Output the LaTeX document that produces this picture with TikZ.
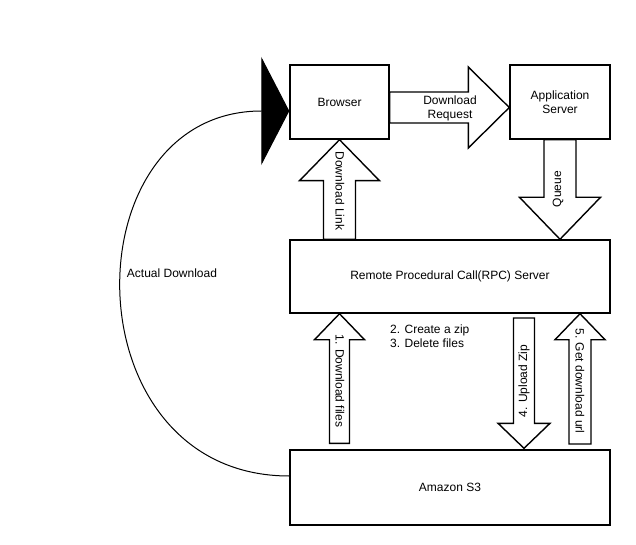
\documentclass[tikz,border=0pt]{standalone}
\usepackage{fontspec}
\setmainfont{Liberation Sans}
\usetikzlibrary{calc,arrows.meta}
\newcommand{\blockarr}[5]{%
  \draw[barrow] ($(#1)!#3!90:(#2)$) -- ($($(#2)!#5!(#1)$)!#3!-90:(#1)$)
    -- ($($(#2)!#5!(#1)$)!#4!-90:(#1)$) -- (#2)
    -- ($($(#2)!#5!(#1)$)!#4!90:(#1)$) -- ($($(#2)!#5!(#1)$)!#3!90:(#1)$)
    -- ($(#1)!#3!-90:(#2)$) -- cycle;}
\begin{document}
\begin{tikzpicture}[x=1pt,y=-1pt,
  box/.style={draw,line width=1.4pt,fill=white,inner sep=0pt,font=\fontsize{12}{14}\selectfont,align=center},
  barrow/.style={draw,line width=1.4pt,fill=white,line join=miter},
  lbl/.style={font=\fontsize{12}{14}\selectfont,inner sep=0pt,align=center},
  curvearrow/.style={line width=1pt,-{Triangle[length=28pt,width=108pt]}}]
\useasboundingbox (0,0) rectangle (636,545);
% boxes
\node[box,minimum width=99pt,minimum height=74pt] (browser) at (339.5,102) {Browser};
\node[box,minimum width=100pt,minimum height=74pt] (app) at (560,102) {Application\\Server};
\node[box,minimum width=320pt,minimum height=73pt] (rpc) at (450,276.5) {Remote Procedural Call(RPC) Server};
\node[box,minimum width=320pt,minimum height=75pt] (s3) at (450,487.5) {Amazon S3};
% coordinates for block arrows
\coordinate (drA) at ([yshift=-5.5pt]browser.east);
\coordinate (drB) at (drA -| app.west);
\coordinate (dlA) at (browser.south |- rpc.north);
\coordinate (dlB) at (browser.south);
\coordinate (qA) at (app.south);
\coordinate (qB) at (app.south |- rpc.north);
\coordinate (f1A) at ([yshift=6pt]dlA |- s3.north);
\coordinate (f1B) at (dlA |- rpc.south);
\coordinate (u4A) at ([yshift=-5pt]524,313);
\coordinate (u4B) at ([yshift=1pt]u4A |- s3.north);
\coordinate (g5A) at ([yshift=6pt]580,450);
\coordinate (g5B) at (g5A |- rpc.south);
% block arrows
\blockarr{drA}{drB}{15.5pt}{40.5pt}{41pt}
\blockarr{dlA}{dlB}{16pt}{40pt}{41pt}
\blockarr{qA}{qB}{16pt}{40.5pt}{42pt}
\blockarr{f1A}{f1B}{10pt}{25pt}{26pt}
\blockarr{u4A}{u4B}{10.5pt}{26pt}{25pt}
\blockarr{g5A}{g5B}{11pt}{25pt}{26pt}
% arrow labels
\node[lbl] (tdr) at (450,108) {Download\\Request};
\node[lbl,rotate=-90] (tdl) at (340,191) {Download Link};
\node[lbl,rotate=90] (tq) at (558,189) {Queue};
\node[lbl,rotate=-90] (t1) at (340,381) {1. Download files};
\node[lbl,rotate=90] (t4) at (524,381) {4. Upload Zip};
\node[lbl,rotate=-90] (t5) at (580,381) {5. Get download url};
\node[lbl,align=left,anchor=north west] (t23) at (390,325) {2. Create a zip\\3. Delete files};
% actual download curve
\coordinate (cs) at ([yshift=11.5pt]s3.west);
\coordinate (ce) at (browser.west |- 0,111);
\draw[curvearrow] (cs) .. controls (68,476) and (68,111) .. (ce);
\node[lbl] (tad) at (172,273) {Actual Download};
\end{tikzpicture}
\end{document}
